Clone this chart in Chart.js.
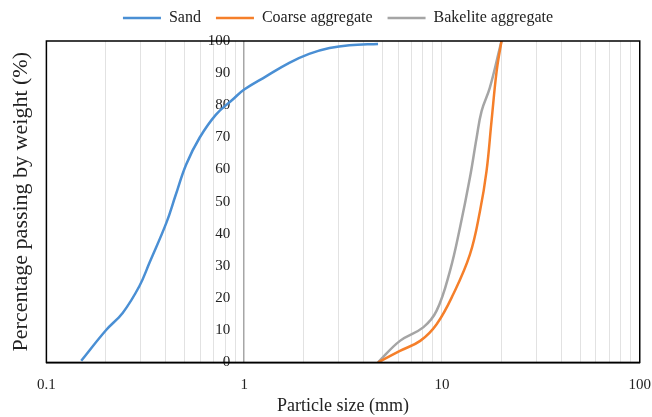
<!DOCTYPE html>
<html>
<head>
<meta charset="utf-8">
<script src="https://cdn.jsdelivr.net/npm/chart.js@4.4.1/dist/chart.umd.min.js"></script>
<style>
  body { margin: 0; background: #fff; }
  #wrap { width: 652px; height: 417px; }
</style>
</head>
<body>
<div id="wrap"><canvas id="gradingChart"></canvas></div>
<script>
// Sieve analysis (particle size in mm, % passing)
const sandSize = [0.15, 0.2, 0.243, 0.295, 0.332, 0.404, 0.45, 0.509, 0.595, 0.72, 0.875, 1, 1.29, 1.69, 2.13, 2.7, 3.4, 4.75];
const sandPass = [0.5, 10, 15.4, 23.7, 31, 43.4, 52, 61.6, 69.9, 77.1, 81.8, 84.9, 89, 93.2, 96, 97.8, 98.7, 99.1];

const coarseSize = [4.75, 6.13, 7.76, 9.4, 11.4, 13.85, 15.57, 16.8, 17.8, 18.9, 20];
const coarsePass = [0, 3.6, 6.7, 11.9, 21.2, 33.6, 47.1, 59.5, 75, 90.6, 100];

const bakeliteSize = [4.75, 6.13, 8.04, 9.4, 10.98, 12.33, 13.85, 14.97, 15.86, 17.45, 19.6, 20];
const bakelitePass = [0, 6.7, 10.9, 16.1, 28.5, 41.9, 57.5, 69.9, 78.2, 85.4, 97.8, 100];

// log axis grid positions and the ones that get a label
const xGridValues = [0.1, 0.2, 0.3, 0.4, 0.5, 0.6, 0.7, 0.8, 0.9,
                     1, 2, 3, 4, 5, 6, 7, 8, 9,
                     10, 20, 30, 40, 50, 60, 70, 80, 90, 100];
const xLabelValues = [0.1, 1, 10, 100];

const toPoints = (xs, ys) => xs.map((x, i) => ({ x: x, y: ys[i] }));

const serif = 'Liberation Serif, Times New Roman, serif';

// black frame round the plot area, legend nudged like the original
const frameBox = {
    id: 'frameBox',
    afterLayout(chart) {
        const lg = chart.legend;
        lg.left += 10;
        lg.right += 10;
        lg.top -= 5;
        lg.bottom -= 5;
    },
    afterDatasetsDraw(chart) {
        const a = chart.chartArea;
        const ctx = chart.ctx;
        ctx.save();
        ctx.strokeStyle = '#000';
        ctx.lineWidth = 1.5;
        ctx.strokeRect(a.left, a.top, a.right - a.left, a.bottom - a.top);
        ctx.restore();
    }
};

const data = {
    datasets: [
        {
            label: 'Sand',
            data: toPoints(sandSize, sandPass),
            borderColor: '#4a8fd4',
            backgroundColor: '#4a8fd4',
            borderWidth: 2.5
        },
        {
            label: 'Coarse aggregate',
            data: toPoints(coarseSize, coarsePass),
            borderColor: '#f57f2a',
            backgroundColor: '#f57f2a',
            borderWidth: 2.5
        },
        {
            label: 'Bakelite aggregate',
            data: toPoints(bakeliteSize, bakelitePass),
            borderColor: '#a5a5a5',
            backgroundColor: '#a5a5a5',
            borderWidth: 2.5
        }
    ]
};

const config = {
    type: 'line',
    data: data,
    options: {
        responsive: true,
        maintainAspectRatio: false,
        animation: false,
        layout: { padding: { left: 4, right: 0, top: 0, bottom: 0 } },
        elements: {
            line: { tension: 0.4, fill: false },
            point: { radius: 0, hoverRadius: 0 }
        },
        plugins: {
            tooltip: { enabled: false },
            legend: {
                position: 'top',
                labels: {
                    usePointStyle: true,
                    pointStyle: 'line',
                    pointStyleWidth: 38,
                    padding: 15,
                    color: '#222',
                    font: { family: serif, size: 16 }
                }
            }
        },
        scales: {
            x: {
                type: 'logarithmic',
                min: 0.1,
                max: 100,
                afterBuildTicks: scale => {
                    scale.ticks = xGridValues.map(v => ({ value: v }));
                },
                ticks: {
                    autoSkip: false,
                    maxRotation: 0,
                    padding: 1,
                    color: '#222',
                    font: { family: serif, size: 15 },
                    callback: value => xLabelValues.includes(value) ? String(value) : ''
                },
                grid: {
                    // the line at 1 mm is the vertical axis of the original
                    color: c => (c.tick && c.tick.value === 1) ? '#a6a6a6' : '#e2e2e2',
                    lineWidth: c => (c.tick && c.tick.value === 1) ? 1.5 : 1,
                    drawTicks: true,
                    tickLength: 13,
                    tickColor: 'rgba(0,0,0,0)'
                },
                border: { color: '#000', width: 1.5 },
                title: {
                    display: true,
                    text: 'Particle size (mm)',
                    color: '#222',
                    padding: { top: 0, bottom: 0 },
                    font: { family: serif, size: 18 }
                }
            },
            y: {
                min: 0,
                max: 100,
                // labels sit just left of the 1 mm line
                position: { x: 0.85 },
                ticks: {
                    stepSize: 10,
                    color: '#222',
                    font: { family: serif, size: 15 }
                },
                grid: { display: false, drawTicks: false },
                border: { display: false }
            },
            yTitle: {
                type: 'linear',
                axis: 'y',
                position: 'left',
                min: 0,
                max: 100,
                ticks: { display: false },
                grid: { display: false, drawTicks: false },
                border: { display: false },
                title: {
                    display: true,
                    text: 'Percentage passing by weight (%)',
                    color: '#222',
                    padding: { top: 4, bottom: 12 },
                    font: { family: serif, size: 22 }
                }
            }
        }
    },
    plugins: [frameBox]
};

const ctx = document.getElementById('gradingChart').getContext('2d');
new Chart(ctx, config);
</script>
</body>
</html>
